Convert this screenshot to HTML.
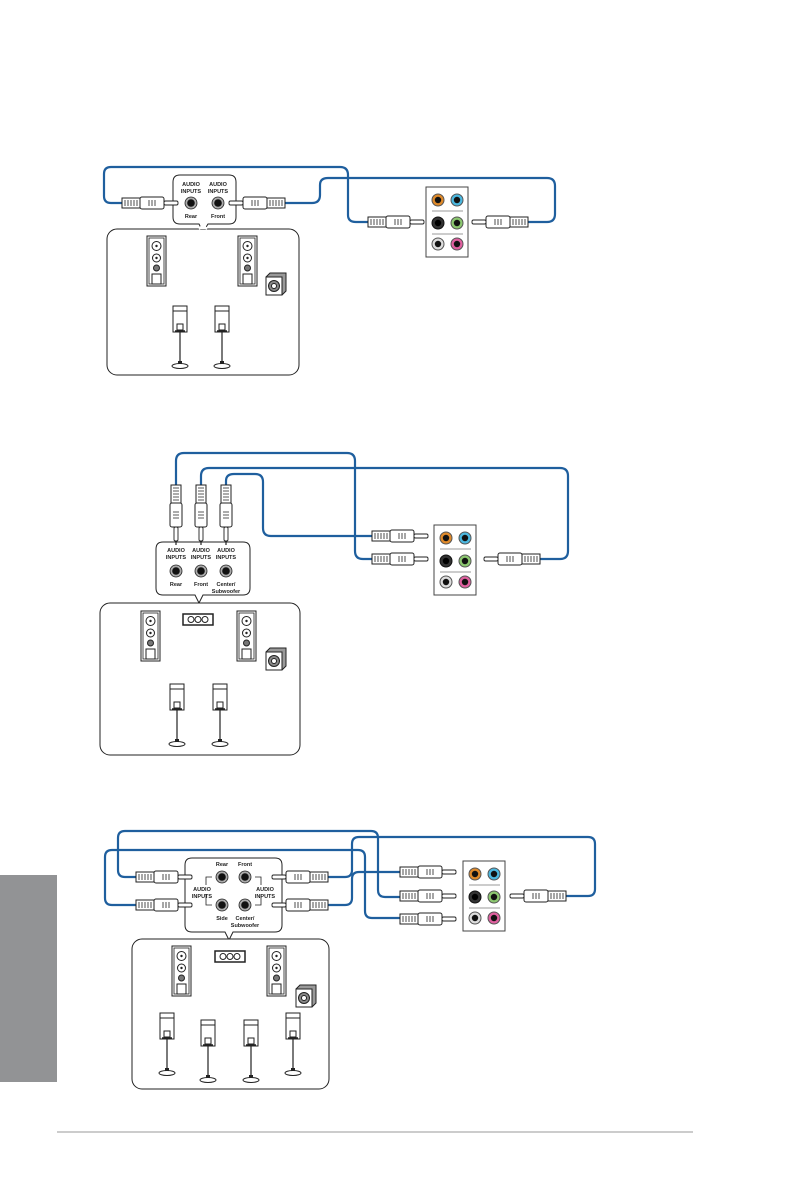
<!DOCTYPE html>
<html><head><meta charset="utf-8"><style>
html,body{margin:0;padding:0;background:#fff;}
svg{display:block;}
text{font-family:"Liberation Sans",sans-serif;font-weight:bold;fill:#222;}
</style></head><body>
<svg width="794" height="1196" viewBox="0 0 794 1196" xmlns="http://www.w3.org/2000/svg">
<defs>
<g id="plug">
  <rect x="0" y="-5" width="18" height="10" fill="#fff" stroke="#222" stroke-width="1"/>
  <path d="M3 -3V3M6 -3V3M9 -3V3M12 -3V3M15 -3V3" stroke="#222" stroke-width="0.8"/>
  <rect x="18" y="-6" width="24" height="12" rx="2" fill="#fff" stroke="#222" stroke-width="1"/>
  <path d="M27 -3V3M30 -3V3M33 -3V3" stroke="#222" stroke-width="0.8"/>
  <rect x="42" y="-2" width="14" height="4" rx="1.5" fill="#fff" stroke="#222" stroke-width="0.9"/>
</g>
<g id="jack">
  <circle r="6" fill="#aaa" stroke="#222" stroke-width="0.8"/>
  <circle r="3.8" fill="#111"/>
</g>
<g id="tower">
  <rect x="0" y="0" width="19" height="50" fill="#fff" stroke="#222" stroke-width="1"/>
  <rect x="2" y="2" width="15" height="46" fill="none" stroke="#222" stroke-width="0.8"/>
  <circle cx="9.5" cy="10" r="4.5" fill="none" stroke="#222"/><circle cx="9.5" cy="10" r="1.2" fill="#222"/>
  <circle cx="9.5" cy="22" r="4" fill="none" stroke="#222"/><circle cx="9.5" cy="22" r="1.2" fill="#222"/>
  <circle cx="9.5" cy="32" r="3" fill="#777" stroke="#222"/>
  <rect x="5" y="38" width="9" height="10" fill="#fff" stroke="#222"/>
</g>
<g id="sub">
  <path d="M0 4 L4 0 H20 V18 L16 22 H0Z" fill="#999" stroke="#222"/>
  <rect x="0" y="4" width="16" height="18" fill="#fff" stroke="#222"/>
  <circle cx="8" cy="13" r="5.5" fill="#888" stroke="#222"/>
  <circle cx="8" cy="13" r="2.5" fill="#fff" stroke="#222"/>
</g>
<g id="stand">
  <rect x="0" y="0" width="14" height="26" fill="#fff" stroke="#222"/>
  <path d="M0 5H14" stroke="#222"/>
  <rect x="4" y="18" width="6" height="6" fill="#fff" stroke="#222"/>
  <path d="M2 25H12" stroke="#222" stroke-width="1.5"/>
  <path d="M7 26V58" stroke="#222" stroke-width="1.2"/>
  <rect x="5" y="55" width="4" height="4" fill="#222"/>
  <ellipse cx="7" cy="60" rx="8" ry="2.5" fill="#fff" stroke="#222"/>
</g>
<g id="center">
  <rect x="0" y="0" width="30" height="11" fill="#fff" stroke="#222" stroke-width="1.5"/>
  <circle cx="8" cy="5.5" r="3" fill="none" stroke="#222"/>
  <circle cx="15" cy="5.5" r="3" fill="none" stroke="#222"/>
  <circle cx="22" cy="5.5" r="3" fill="none" stroke="#222"/>
</g>
<g id="panel">
  <rect x="0" y="0" width="42" height="70" fill="#fff" stroke="#444" stroke-width="1"/>
  <circle cx="12" cy="13" r="6" fill="#e08a2a" stroke="#555"/><circle cx="12" cy="13" r="3.2" fill="#111"/>
  <circle cx="31" cy="13" r="6" fill="#4cb8e0" stroke="#555"/><circle cx="31" cy="13" r="3.2" fill="#111"/>
  <path d="M6 24H37" stroke="#bbb" stroke-width="1.5"/>
  <circle cx="12" cy="36" r="6" fill="#333" stroke="#111"/><circle cx="12" cy="36" r="3.2" fill="#000"/>
  <circle cx="31" cy="36" r="6" fill="#8cc870" stroke="#555"/><circle cx="31" cy="36" r="3.2" fill="#111"/>
  <path d="M6 47H37" stroke="#bbb" stroke-width="1.5"/>
  <circle cx="12" cy="57" r="6" fill="#ddd" stroke="#555"/><circle cx="12" cy="57" r="3.2" fill="#111"/>
  <circle cx="31" cy="57" r="6" fill="#e060a0" stroke="#555"/><circle cx="31" cy="57" r="3.2" fill="#111"/>
</g>
</defs>

<!-- side tab and footer line -->
<rect x="0" y="875" width="57" height="207" fill="#929395"/>
<rect x="57" y="1131" width="636" height="2" fill="#ccc"/>

<!-- ============ Diagram 1 ============ -->
<g fill="none" stroke="#1f5f9e" stroke-width="2.2">
  <path d="M122,203 H111 Q104,203 104,196 V174 Q104,167 111,167 H340 Q348,167 348,175 V215 Q348,222 356,222 H368"/>
  <path d="M285,203 H312 Q320,203 320,195 V185 Q320,178 328,178 H547 Q555,178 555,186 V214 Q555,222 547,222 H528"/>
</g>
<path d="M180,175 H229 Q236,175 236,182 V217 Q236,224 229,224 H208 L203,232 L199,224 H180 Q173,224 173,217 V182 Q173,175 180,175Z" fill="#fff" stroke="#222"/>
<text x="191" y="186" font-size="5.5" text-anchor="middle">AUDIO</text>
<text x="191" y="193" font-size="5.5" text-anchor="middle">INPUTS</text>
<text x="218" y="186" font-size="5.5" text-anchor="middle">AUDIO</text>
<text x="218" y="193" font-size="5.5" text-anchor="middle">INPUTS</text>
<use href="#jack" x="191" y="203"/><use href="#jack" x="218" y="203"/>
<text x="191" y="218" font-size="5.5" text-anchor="middle">Rear</text>
<text x="218" y="218" font-size="5.5" text-anchor="middle">Front</text>
<use href="#plug" transform="translate(122,203)"/>
<use href="#plug" transform="translate(285,203) scale(-1,1)"/>
<use href="#panel" x="426" y="187"/>
<use href="#plug" transform="translate(368,222)"/>
<use href="#plug" transform="translate(528,222) scale(-1,1)"/>
<rect x="107" y="229" width="192" height="146" rx="10" fill="#fff" stroke="#222"/>
<path d="M199,229 L203,225 L207,229" fill="#fff" stroke="#fff" stroke-width="2"/>
<use href="#tower" x="147" y="236"/>
<use href="#tower" x="238" y="236"/>
<use href="#sub" x="266" y="273"/>
<use href="#stand" x="173" y="306"/>
<use href="#stand" x="215" y="306"/>

<!-- ============ Diagram 2 ============ -->
<g fill="none" stroke="#1f5f9e" stroke-width="2.2">
  <path d="M176,485 V461 Q176,453 184,453 H347 Q355,453 355,461 V551 Q355,559 363,559 H372"/>
  <path d="M201,485 V476 Q201,468 209,468 H560 Q568,468 568,476 V551 Q568,559 560,559 H540"/>
  <path d="M226,485 V481 Q226,474 234,474 H255 Q263,474 263,482 V528 Q263,536 271,536 H372"/>
</g>
<use href="#plug" transform="translate(176,485) rotate(90)"/>
<use href="#plug" transform="translate(201,485) rotate(90)"/>
<use href="#plug" transform="translate(226,485) rotate(90)"/>
<path d="M163,542 H243 Q250,542 250,549 V588 Q250,595 243,595 H203 L199,603 L195,595 H163 Q156,595 156,588 V549 Q156,542 163,542Z" fill="#fff" stroke="#222"/>
<path d="M176,541V545M201,541V545M226,541V545" stroke="#222" stroke-width="1.2"/>
<text x="176" y="552" font-size="5.5" text-anchor="middle">AUDIO</text>
<text x="176" y="559" font-size="5.5" text-anchor="middle">INPUTS</text>
<text x="201" y="552" font-size="5.5" text-anchor="middle">AUDIO</text>
<text x="201" y="559" font-size="5.5" text-anchor="middle">INPUTS</text>
<text x="226" y="552" font-size="5.5" text-anchor="middle">AUDIO</text>
<text x="226" y="559" font-size="5.5" text-anchor="middle">INPUTS</text>
<use href="#jack" x="176" y="571"/><use href="#jack" x="201" y="571"/><use href="#jack" x="226" y="571"/>
<text x="176" y="586" font-size="5.5" text-anchor="middle">Rear</text>
<text x="201" y="586" font-size="5.5" text-anchor="middle">Front</text>
<text x="226" y="586" font-size="5.5" text-anchor="middle">Center/</text>
<text x="226" y="593" font-size="5.5" text-anchor="middle">Subwoofer</text>
<use href="#panel" x="434" y="525"/>
<use href="#plug" transform="translate(372,536)"/>
<use href="#plug" transform="translate(372,559)"/>
<use href="#plug" transform="translate(540,559) scale(-1,1)"/>
<rect x="100" y="603" width="200" height="152" rx="10" fill="#fff" stroke="#222"/>
<use href="#center" x="183" y="614"/>
<use href="#tower" x="141" y="611"/>
<use href="#tower" x="237" y="611"/>
<use href="#sub" x="266" y="648"/>
<use href="#stand" x="170" y="684"/>
<use href="#stand" x="213" y="684"/>

<!-- ============ Diagram 3 ============ -->
<g fill="none" stroke="#1f5f9e" stroke-width="2.2">
  <path d="M136,877 H125 Q118,877 118,870 V838 Q118,831 125,831 H371 Q378,831 378,838 V890 Q378,897 385,897 H400"/>
  <path d="M136,905 H112 Q105,905 105,898 V857 Q105,850 112,850 H358 Q365,850 365,857 V911 Q365,918 372,918 H400"/>
  <path d="M328,877 H345 Q352,877 352,870 V844 Q352,837 359,837 H588 Q595,837 595,844 V889 Q595,896 588,896 H566"/>
  <path d="M328,905 H345 Q352,905 352,898 V879 Q352,872 359,872 H400"/>
</g>
<path d="M192,858 H275 Q282,858 282,865 V925 Q282,932 275,932 H233 L229,940 L225,932 H192 Q185,932 185,925 V865 Q185,858 192,858Z" fill="#fff" stroke="#222"/>
<text x="222" y="866" font-size="5.5" text-anchor="middle">Rear</text>
<text x="245" y="866" font-size="5.5" text-anchor="middle">Front</text>
<use href="#jack" x="222" y="877"/><use href="#jack" x="245" y="877"/>
<use href="#jack" x="222" y="905"/><use href="#jack" x="245" y="905"/>
<text x="222" y="920" font-size="5.5" text-anchor="middle">Side</text>
<text x="245" y="920" font-size="5.5" text-anchor="middle">Center/</text>
<text x="245" y="927" font-size="5.5" text-anchor="middle">Subwoofer</text>
<text x="202" y="891" font-size="5.5" text-anchor="middle">AUDIO</text>
<text x="202" y="898" font-size="5.5" text-anchor="middle">INPUTS</text>
<text x="265" y="891" font-size="5.5" text-anchor="middle">AUDIO</text>
<text x="265" y="898" font-size="5.5" text-anchor="middle">INPUTS</text>
<path d="M206,885V877H212M206,894V905H212M261,885V877H255M261,894V905H255" fill="none" stroke="#222" stroke-width="0.8"/>
<use href="#plug" transform="translate(136,877)"/>
<use href="#plug" transform="translate(136,905)"/>
<use href="#plug" transform="translate(328,877) scale(-1,1)"/>
<use href="#plug" transform="translate(328,905) scale(-1,1)"/>
<use href="#panel" x="463" y="861"/>
<use href="#plug" transform="translate(400,872)"/>
<use href="#plug" transform="translate(400,896)"/>
<use href="#plug" transform="translate(400,919)"/>
<use href="#plug" transform="translate(566,896) scale(-1,1)"/>
<rect x="132" y="939" width="197" height="150" rx="10" fill="#fff" stroke="#222"/>
<use href="#center" x="215" y="951"/>
<use href="#tower" x="172" y="946"/>
<use href="#tower" x="267" y="946"/>
<use href="#sub" x="296" y="985"/>
<use href="#stand" x="160" y="1013"/>
<use href="#stand" x="201" y="1020"/>
<use href="#stand" x="244" y="1020"/>
<use href="#stand" x="286" y="1013"/>
</svg>
</body></html>
